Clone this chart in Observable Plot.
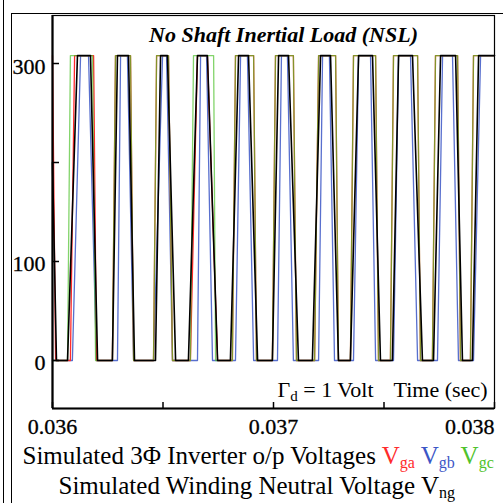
<!DOCTYPE html>
<html><head><meta charset="utf-8">
<script src="https://cdn.jsdelivr.net/npm/d3@7"></script>
<script src="https://cdn.jsdelivr.net/npm/@observablehq/plot@0.6"></script>
<style>
html,body{margin:0;padding:0;background:#fff;}
#wrap{position:relative;width:503px;height:503px;overflow:hidden;}
#wrap svg{position:absolute;left:0;top:0;}
#wrap svg text{font-family:"Liberation Serif","Times New Roman",Times,serif;font-variant:normal;}
.ln{position:absolute;background:#000;}
</style></head><body>
<div id="wrap"></div>
<script>
// ---- data (time in seconds, voltage in volts) ----
const vgaT = [0.036000,0.036014,0.036081,0.036100,0.036186,0.036199,0.036271,0.036285,0.036353,0.036367,0.036457,0.036471,0.036525,0.036543,0.036624,0.036656,0.036701,0.036747,0.036814,0.036828,0.036910,0.036923,0.036995,0.037009,0.037090,0.037104,0.037186,0.037204,0.037281,0.037294,0.037348,0.037362,0.037462,0.037475,0.037529,0.037543,0.037652,0.037665,0.037719,0.037733,0.037833,0.037846,0.037891,0.037905,0.038000];
const vgaV = [308,0,0,308,308,0,0,308,308,0,0,308,308,0,0,308,308,0,0,308,308,0,0,308,308,0,0,308,308,0,0,308,308,0,0,308,308,0,0,308,308,0,0,308,308];

const vgbT = [0.036000,0.036090,0.036127,0.036163,0.036199,0.036294,0.036308,0.036339,0.036367,0.036457,0.036498,0.036516,0.036543,0.036656,0.036670,0.036697,0.036724,0.036828,0.036851,0.036882,0.036910,0.037018,0.037036,0.037063,0.037090,0.037204,0.037222,0.037253,0.037276,0.037362,0.037385,0.037439,0.037462,0.037543,0.037566,0.037620,0.037652,0.037742,0.037765,0.037810,0.037837,0.037905,0.037937,0.038000];
const vgbV = [0,0,308,308,0,0,308,308,0,0,308,308,0,0,308,308,0,0,308,308,0,0,308,308,0,0,308,308,0,0,308,308,0,0,308,308,0,0,308,308,0,0,308,308];

const vgcT = [0.036000,0.036068,0.036081,0.036181,0.036195,0.036271,0.036285,0.036353,0.036367,0.036457,0.036471,0.036525,0.036543,0.036624,0.036638,0.036729,0.036738,0.036814,0.036828,0.036910,0.036923,0.036995,0.037009,0.037090,0.037104,0.037186,0.037204,0.037281,0.037294,0.037348,0.037362,0.037462,0.037475,0.037529,0.037543,0.037652,0.037665,0.037719,0.037733,0.037833,0.037846,0.037891,0.037905,0.038000];
const vgcV = [0,0,308,308,0,0,308,308,0,0,308,308,0,0,308,308,0,0,308,308,0,0,308,308,0,0,308,308,0,0,308,308,0,0,308,308,0,0,308,308,0,0,308,308];

const vngT = [0.036000,0.036018,0.036068,0.036113,0.036172,0.036204,0.036271,0.036294,0.036344,0.036371,0.036466,0.036489,0.036520,0.036557,0.036615,0.036656,0.036701,0.036747,0.036805,0.036842,0.036887,0.036928,0.036995,0.037023,0.037068,0.037113,0.037176,0.037213,0.037258,0.037294,0.037348,0.037385,0.037448,0.037484,0.037538,0.037566,0.037629,0.037674,0.037724,0.037756,0.037824,0.037855,0.037900,0.037928,0.038000];
const vngV = [200,0,0,308,308,0,0,308,308,0,0,308,308,0,0,308,308,0,0,308,308,0,0,308,308,0,0,308,308,0,0,308,308,0,0,308,308,0,0,308,308,0,0,308,308];

const xDomain = [0.036, 0.038];
const yDomain = [-48.5, 348.5];
const xTicks = [0.036, 0.0365, 0.037, 0.0375, 0.038];
const xTickLabelsMid = ["0.036", "0.037"];
const xTickLabelsEnd = ["0.038"];
const yTicks = [0, 100, 200, 300];
const yTickLabels = ["0", "100", "300"];
const titleText = "No Shaft Inertial Load (NSL)";
const gammaText = "Γd = 1 Volt";
const timeText = "Time (sec)";
const caption1 = "Simulated 3Φ Inverter o/p Voltages Vga Vgb Vgc";
const caption2 = "Simulated Winding Neutral Voltage Vng";

const colors = {a: "#ff2b2b", b: "#3b56c6", c: "#4fc22c", n: "#000000"};
const rows = (T, V) => T.map((t, i) => ({t, v: V[i]}));
const fontFamily = '"Liberation Serif","Times New Roman",Times,serif';
const tx = {fontFamily, fontVariant: "normal", fill: "#000"};

const chart = Plot.plot({
  width: 503, height: 503,
  marginLeft: 52, marginRight: 9, marginTop: 15, marginBottom: 95,
  x: {domain: xDomain, axis: null},
  y: {domain: yDomain, axis: null},
  style: {fontFamily, background: "transparent", overflow: "visible", color: "#000"},
  marks: [
    Plot.lineY(rows(vgbT, vgbV), {x: "t", y: "v", stroke: colors.b, strokeWidth: 1.3, strokeOpacity: 0.85}),
    Plot.lineY(rows(vgaT, vgaV), {x: "t", y: "v", stroke: colors.a, strokeWidth: 1.3}),
    Plot.lineY(rows(vgcT, vgcV), {x: "t", y: "v", stroke: colors.c, strokeWidth: 1.3, strokeOpacity: 0.7}),
    Plot.lineY(rows(vngT, vngV), {x: "t", y: "v", stroke: colors.n, strokeWidth: 1.6}),
    Plot.frame({stroke: "#000", strokeWidth: 1.2}),
    Plot.ruleX([xDomain[0]], {stroke: "#000", strokeWidth: 2.2}),
    Plot.ruleY([yDomain[0]], {stroke: "#000", strokeWidth: 2.2}),
    Plot.tickY(yTicks, {y: d => d, insetRight: 435, strokeWidth: 1.5}),
    Plot.tickX(xTicks, {x: d => d, insetTop: 387, strokeWidth: 1.5}),
    Plot.text(yTickLabels, {...tx, y: d => +d, text: d => d, frameAnchor: "left", textAnchor: "end", lineAnchor: "bottom", dx: -7, dy: 10, fontSize: 22, stroke: "#000", strokeWidth: 0.3}),
    Plot.text(xTickLabelsMid, {...tx, x: d => +d, text: d => d, frameAnchor: "bottom", textAnchor: "middle", lineAnchor: "bottom", dy: 25, fontSize: 22, stroke: "#000", strokeWidth: 0.3}),
    Plot.text(xTickLabelsEnd, {...tx, x: d => +d, text: d => d, frameAnchor: "bottom", textAnchor: "end", lineAnchor: "bottom", dy: 25, fontSize: 22, stroke: "#000", strokeWidth: 0.3}),
    Plot.text([titleText], {...tx, frameAnchor: "top", lineAnchor: "bottom", dx: 10, dy: 26, fontSize: 22, fontWeight: "bold", fontStyle: "italic"}),
    Plot.text([gammaText], {...tx, frameAnchor: "bottom-left", textAnchor: "start", lineAnchor: "bottom", dx: 225, dy: -12, fontSize: 22}),
    Plot.text([timeText], {...tx, frameAnchor: "bottom-right", textAnchor: "end", lineAnchor: "bottom", dx: -7, dy: -12, fontSize: 22}),
    Plot.text([caption1], {...tx, frameAnchor: "bottom-left", textAnchor: "start", lineAnchor: "bottom", dx: -30, dy: 55, fontSize: 25}),
    Plot.text([caption2], {...tx, frameAnchor: "bottom-left", textAnchor: "start", lineAnchor: "bottom", dx: 6, dy: 85, fontSize: 25})
  ]
});

const wrap = document.getElementById("wrap");
wrap.appendChild(chart);
[["left:3px;top:0;width:1px;height:503px"],["left:11px;top:13px;width:1px;height:490px"],["left:11px;top:13px;width:492px;height:1px"]]
  .forEach(([s]) => { const d = document.createElement("div"); d.className = "ln"; d.setAttribute("style", s); wrap.appendChild(d); });

// rich text (subscripts, colours)
const NS = "http://www.w3.org/2000/svg";
function rich(match, parts) {
  const t = Array.from(chart.querySelectorAll("text")).find(e => e.textContent === match);
  if (!t) return;
  t.textContent = "";
  for (const p of parts) {
    const s = document.createElementNS(NS, "tspan");
    s.textContent = p.text;
    if (p.fill) s.setAttribute("fill", p.fill);
    if (p.size) s.setAttribute("font-size", p.size);
    if (p.dy) s.setAttribute("dy", p.dy);
    t.appendChild(s);
  }
}
rich(gammaText, [{text: "Γ"}, {text: "d", size: 15, dy: 4}, {text: " = 1 Volt", dy: -4}]);
rich(caption1, [
  {text: "Simulated 3Φ Inverter o/p Voltages "},
  {text: "V", fill: colors.a}, {text: "ga", fill: colors.a, size: 16, dy: 4}, {text: " ", dy: -4},
  {text: "V", fill: colors.b}, {text: "gb", fill: colors.b, size: 16, dy: 4}, {text: " ", dy: -4},
  {text: "V", fill: colors.c}, {text: "gc", fill: colors.c, size: 16, dy: 4}
]);
rich(caption2, [{text: "Simulated Winding Neutral Voltage V"}, {text: "ng", size: 16, dy: 4}]);
</script>
</body></html>
